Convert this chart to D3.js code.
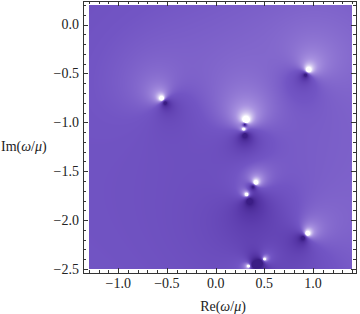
<!DOCTYPE html>
<html>
<head>
<meta charset="utf-8">
<script src="https://cdn.jsdelivr.net/npm/d3@7"></script>
<style>
  body { margin: 0; background: #fff; }
  text { font-family: "Liberation Serif", "DejaVu Serif", serif; font-size: 14px; fill: #222; }
</style>
</head>
<body>
<div id="chart"></div>
<script>
var svgWidth = 360;
var svgHeight = 314;

// white spots (poles), Re and Im
var poleRe = [-0.55, 0.95, 0.31, 0.29, 0.41, 0.32, 0.94, 0.50, 0.34];
var poleIm = [-0.76, -0.47, -0.985, -1.07, -1.62, -1.74, -2.14, -2.40, -2.47];
// dark spots (zeros) paired with them
var zeroRe = [-0.52, 0.925, 0.30, 0.30, 0.385, 0.345, 0.90, 0.46, 0.39];
var zeroIm = [-0.80, -0.515, -1.025, -1.13, -1.66, -1.80, -2.18, -2.43, -2.46];

var xTicks = [-1.0, -0.5, 0.0, 0.5, 1.0];
var yTicks = [0.0, -0.5, -1.0, -1.5, -2.0, -2.5];

// plot area (coloured part) and frame
var plot = { left: 89, right: 352, top: 5, bottom: 269 };
var frame = { left: 83, right: 356, top: 1, bottom: 273 };

var x = d3.scaleLinear().domain([-1.3, 1.4]).range([plot.left, plot.right]);
var y = d3.scaleLinear().domain([0.2, -2.5]).range([plot.top, plot.bottom]);

var color = d3.scaleLinear()
  .domain([-1.3, -0.5, 0, 0.45, 1.0])
  .range(["#3b1d85", "#5a3aab", "#7255c4", "#a892e0", "#ffffff"])
  .clamp(true);

function field(u, v) {
  var s = 0;
  for (var k = 0; k < poleRe.length; k++) {
    s -= 0.5 * Math.log((u - poleRe[k]) ** 2 + (v - poleIm[k]) ** 2);
    s += 0.5 * Math.log((u - zeroRe[k]) ** 2 + (v - zeroIm[k]) ** 2);
  }
  // faint background shading to even out the far field
  s += 0.03 * u - 0.09 * (v + 1.15);
  return s;
}

// paint the density onto a canvas
var cw = plot.right - plot.left, ch = plot.bottom - plot.top;
var canvas = document.createElement("canvas");
canvas.width = cw;
canvas.height = ch;
var ctx = canvas.getContext("2d");
var img = ctx.createImageData(cw, ch);
for (var j = 0; j < ch; j++) {
  for (var i = 0; i < cw; i++) {
    var c = d3.rgb(color(field(x.invert(plot.left + i + 0.5), y.invert(plot.top + j + 0.5))));
    var p = (j * cw + i) * 4;
    img.data[p] = c.r;
    img.data[p + 1] = c.g;
    img.data[p + 2] = c.b;
    img.data[p + 3] = 255;
  }
}
ctx.putImageData(img, 0, 0);

var svg = d3.select("#chart")
  .append("svg")
  .attr("width", svgWidth)
  .attr("height", svgHeight);

svg.append("image")
  .attr("x", plot.left)
  .attr("y", plot.top)
  .attr("width", cw)
  .attr("height", ch)
  .attr("href", canvas.toDataURL());

svg.append("rect")
  .attr("x", frame.left + 0.5)
  .attr("y", frame.top + 0.5)
  .attr("width", frame.right - frame.left)
  .attr("height", frame.bottom - frame.top)
  .attr("fill", "none")
  .attr("stroke", "#333")
  .attr("stroke-width", 1);

// minor ticks every 0.1, major every 0.5
var xMinor = d3.range(-13, 15).map(d => d / 10);
var yMinor = d3.range(-25, 3).map(d => d / 10);
function isMajor(d) { return Math.abs(d * 2 - Math.round(d * 2)) < 1e-6; }

var tickG = svg.append("g").attr("stroke", "#333").attr("stroke-width", 1);

xMinor.forEach(function(d) {
  var len = isMajor(d) ? 5 : 3;
  var px = Math.round(x(d)) + 0.5;
  tickG.append("line").attr("x1", px).attr("x2", px)
    .attr("y1", frame.bottom).attr("y2", frame.bottom - len);
  tickG.append("line").attr("x1", px).attr("x2", px)
    .attr("y1", frame.top).attr("y2", frame.top + len);
});

yMinor.forEach(function(d) {
  var len = isMajor(d) ? 5 : 3;
  var py = Math.round(y(d)) + 0.5;
  tickG.append("line").attr("y1", py).attr("y2", py)
    .attr("x1", frame.left).attr("x2", frame.left + len);
  tickG.append("line").attr("y1", py).attr("y2", py)
    .attr("x1", frame.right).attr("x2", frame.right - len);
});

function fmt(d) { return (d < 0 ? "\u2212" : "") + Math.abs(d).toFixed(1); }

svg.selectAll(".xlab")
  .data(xTicks)
  .enter()
  .append("text")
  .attr("x", d => x(d))
  .attr("y", 288)
  .attr("text-anchor", "middle")
  .text(fmt);

svg.selectAll(".ylab")
  .data(yTicks)
  .enter()
  .append("text")
  .attr("x", 79)
  .attr("y", d => y(d))
  .attr("dy", "0.35em")
  .attr("text-anchor", "end")
  .text(fmt);

// axis titles
var xt = svg.append("text").attr("x", 223).attr("y", 311).attr("text-anchor", "middle");
xt.append("tspan").text("Re(");
xt.append("tspan").attr("font-style", "italic").text("\u03c9");
xt.append("tspan").text("/");
xt.append("tspan").attr("font-style", "italic").text("\u03bc");
xt.append("tspan").text(")");

var yt = svg.append("text").attr("x", 1).attr("y", 151);
yt.append("tspan").text("Im(");
yt.append("tspan").attr("font-style", "italic").text("\u03c9");
yt.append("tspan").text("/");
yt.append("tspan").attr("font-style", "italic").text("\u03bc");
yt.append("tspan").text(")");
</script>
</body>
</html>
